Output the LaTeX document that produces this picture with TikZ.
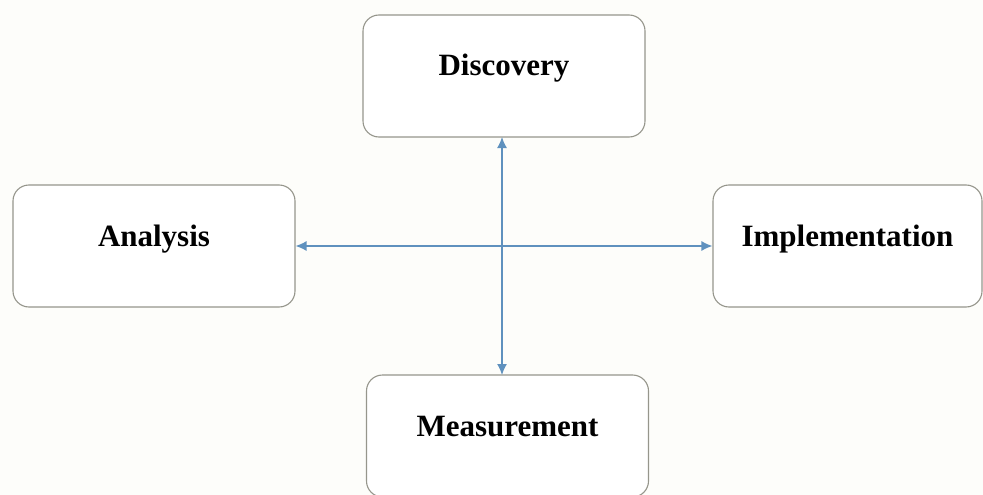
\documentclass[tikz,border=0pt]{standalone}
\usepackage{fontspec}
\setmainfont{Liberation Serif}
\usetikzlibrary{arrows.meta}
\definecolor{boxline}{RGB}{150,150,140}
\definecolor{arrowblue}{RGB}{95,145,190}
\definecolor{bg}{RGB}{253,253,250}
\begin{document}
\begin{tikzpicture}[x=1pt,y=-1pt,
  stagebox/.style={draw=boxline, line width=1.1pt, rounded corners=16pt, fill=white,
    minimum width=282pt, minimum height=122pt, inner sep=0pt,
    font=\fontsize{31}{34}\selectfont\bfseries, text height=21pt, text depth=21pt},
  link/.style={draw=arrowblue, line width=1.4pt, {Latex[length=11pt,width=10pt]}-{Latex[length=11pt,width=10pt]}}]
\useasboundingbox (0,0) rectangle (983,495);
\fill[bg] (0,0) rectangle (983,495);
\clip (0,0) rectangle (983,495);
\node[stagebox] (D) at (504,76) {Discovery};
\node[stagebox] (A) at (154,246) {Analysis};
\node[stagebox, minimum width=269pt] (I) at (847.5,246) {Implementation};
\node[stagebox] (M) at (507.5,436) {Measurement};
\coordinate (vt) at (502,137);
\coordinate (vb) at (502,375);
\draw[link] (vt) -- (vb);
\draw[link] (A.east) -- (I.west);
\end{tikzpicture}
\end{document}
